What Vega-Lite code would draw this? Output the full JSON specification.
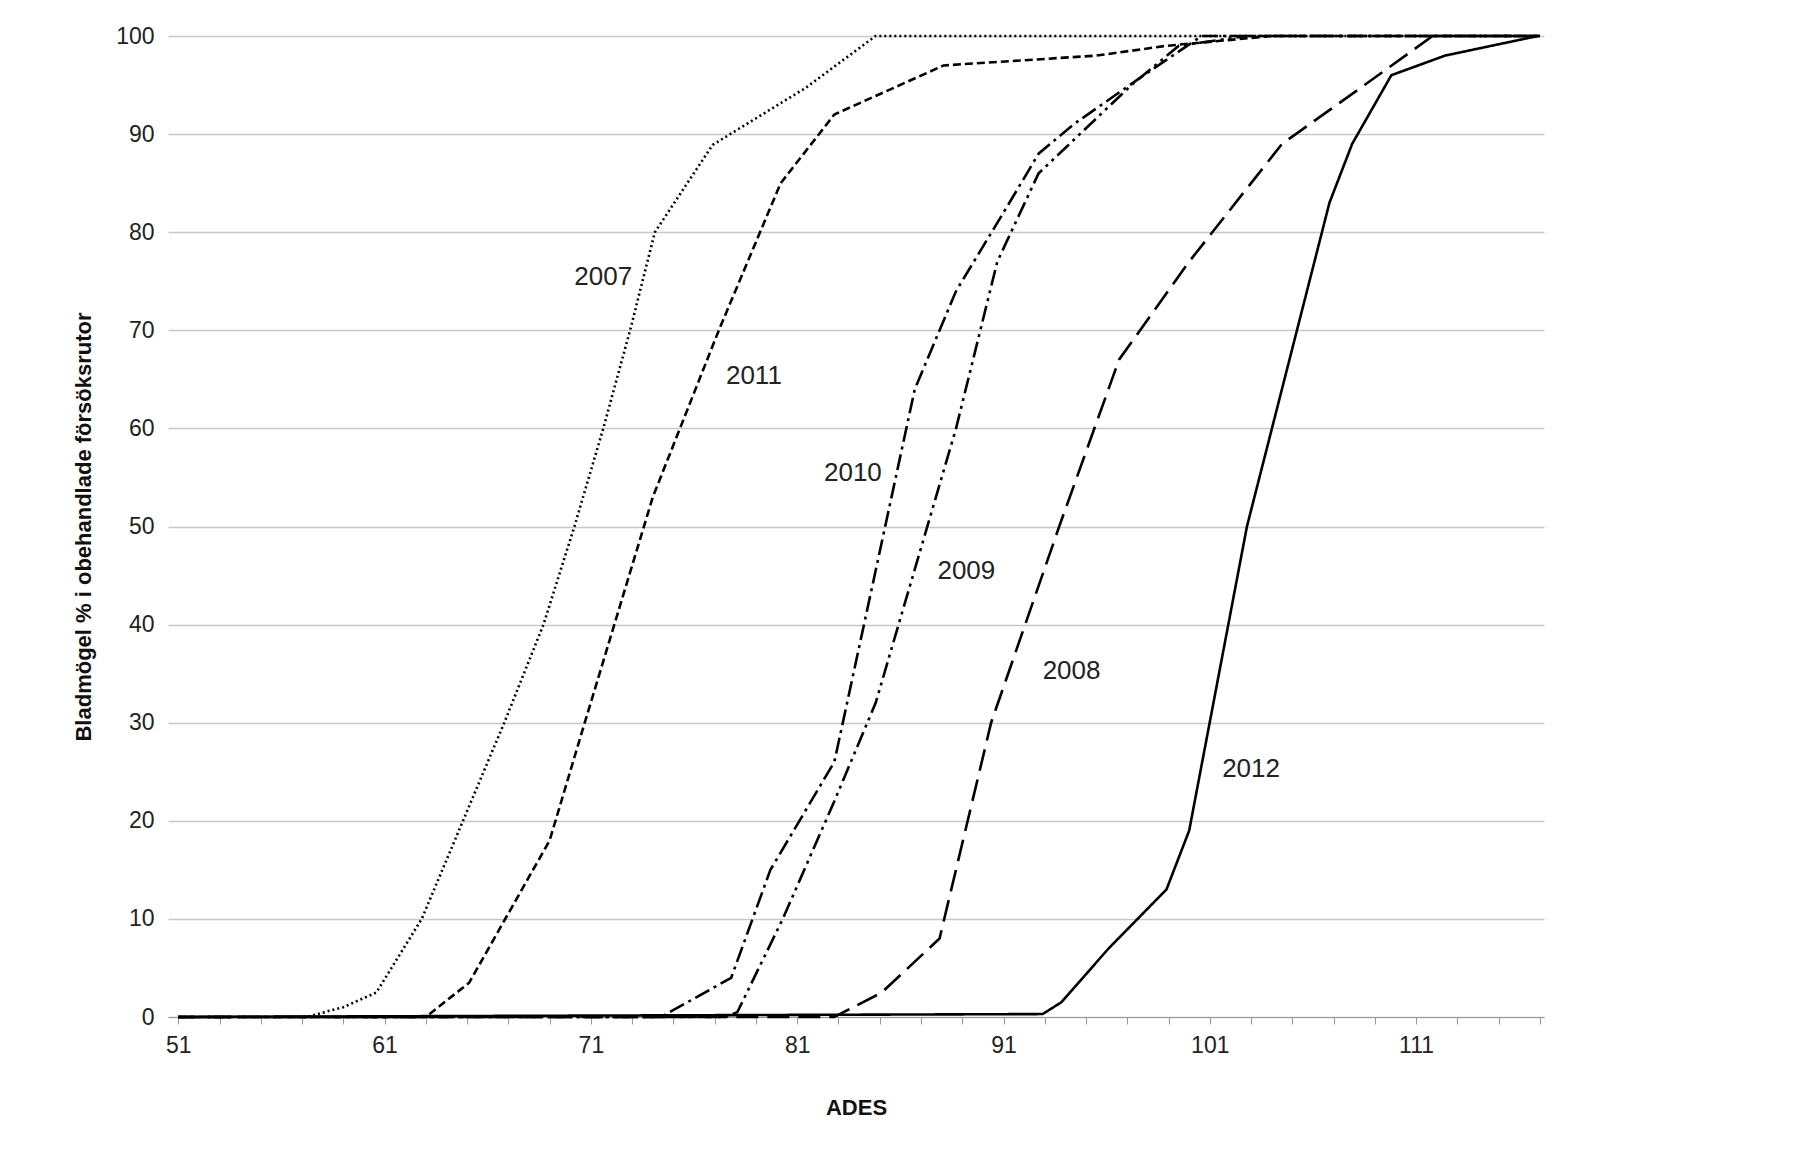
{
  "$schema": "https://vega.github.io/schema/vega-lite/v6.json",
  "width": 1376,
  "height": 981,
  "padding": {"left": 72, "top": 25, "right": 10, "bottom": 10},
  "background": "white",
  "config": {
    "font": "Liberation Sans",
    "view": {"stroke": null},
    "axis": {"labelFontSize": 23, "labelColor": "#222", "titleFontSize": 22, "titleColor": "#111", "titleFontWeight": "bold"}
  },
  "data": {
    "values": [
      {"year": "2007", "x": 51, "y": 0}, {"year": "2007", "x": 57.2, "y": 0}, {"year": "2007", "x": 59, "y": 1}, {"year": "2007", "x": 60.6, "y": 2.5},
      {"year": "2007", "x": 62.8, "y": 10}, {"year": "2007", "x": 64.8, "y": 20}, {"year": "2007", "x": 66.8, "y": 30}, {"year": "2007", "x": 68.7, "y": 40},
      {"year": "2007", "x": 70.2, "y": 50}, {"year": "2007", "x": 71.6, "y": 60}, {"year": "2007", "x": 72.9, "y": 70}, {"year": "2007", "x": 74.1, "y": 80},
      {"year": "2007", "x": 76.9, "y": 88.9}, {"year": "2007", "x": 81.4, "y": 94.7}, {"year": "2007", "x": 84.8, "y": 100}, {"year": "2007", "x": 117, "y": 100},
      {"year": "2011", "x": 51, "y": 0}, {"year": "2011", "x": 63, "y": 0}, {"year": "2011", "x": 65.1, "y": 3.5}, {"year": "2011", "x": 69, "y": 18},
      {"year": "2011", "x": 70.7, "y": 30}, {"year": "2011", "x": 74, "y": 53}, {"year": "2011", "x": 77.2, "y": 70}, {"year": "2011", "x": 80.2, "y": 85},
      {"year": "2011", "x": 82.8, "y": 92}, {"year": "2011", "x": 88.1, "y": 97}, {"year": "2011", "x": 95.5, "y": 98}, {"year": "2011", "x": 98.9, "y": 99},
      {"year": "2011", "x": 104, "y": 100}, {"year": "2011", "x": 117, "y": 100},
      {"year": "2010", "x": 51, "y": 0}, {"year": "2010", "x": 74.4, "y": 0}, {"year": "2010", "x": 77.8, "y": 4}, {"year": "2010", "x": 79.7, "y": 15},
      {"year": "2010", "x": 82.8, "y": 26}, {"year": "2010", "x": 86.7, "y": 64}, {"year": "2010", "x": 88.7, "y": 74}, {"year": "2010", "x": 91, "y": 82},
      {"year": "2010", "x": 92.7, "y": 88}, {"year": "2010", "x": 94.4, "y": 91}, {"year": "2010", "x": 97.8, "y": 96}, {"year": "2010", "x": 100.6, "y": 100},
      {"year": "2010", "x": 117, "y": 100},
      {"year": "2009", "x": 51, "y": 0}, {"year": "2009", "x": 77.5, "y": 0}, {"year": "2009", "x": 78.1, "y": 0.5}, {"year": "2009", "x": 80.3, "y": 10},
      {"year": "2009", "x": 82.8, "y": 22}, {"year": "2009", "x": 84.8, "y": 32}, {"year": "2009", "x": 88.7, "y": 60}, {"year": "2009", "x": 90.7, "y": 77},
      {"year": "2009", "x": 92.7, "y": 86}, {"year": "2009", "x": 97.2, "y": 95}, {"year": "2009", "x": 99.5, "y": 99}, {"year": "2009", "x": 102.8, "y": 100},
      {"year": "2009", "x": 117, "y": 100},
      {"year": "2008", "x": 51, "y": 0}, {"year": "2008", "x": 82.8, "y": 0}, {"year": "2008", "x": 85.1, "y": 2.5}, {"year": "2008", "x": 87.9, "y": 8},
      {"year": "2008", "x": 90.4, "y": 30}, {"year": "2008", "x": 93.7, "y": 50}, {"year": "2008", "x": 96.6, "y": 67}, {"year": "2008", "x": 100, "y": 77},
      {"year": "2008", "x": 104.5, "y": 89}, {"year": "2008", "x": 108.5, "y": 95}, {"year": "2008", "x": 111.8, "y": 100}, {"year": "2008", "x": 117, "y": 100},
      {"year": "2012", "x": 51, "y": 0}, {"year": "2012", "x": 92.9, "y": 0.3}, {"year": "2012", "x": 93.8, "y": 1.5}, {"year": "2012", "x": 96.1, "y": 7},
      {"year": "2012", "x": 98.9, "y": 13}, {"year": "2012", "x": 100, "y": 19}, {"year": "2012", "x": 102.8, "y": 50}, {"year": "2012", "x": 106.8, "y": 83},
      {"year": "2012", "x": 107.9, "y": 89}, {"year": "2012", "x": 109.8, "y": 96}, {"year": "2012", "x": 112.4, "y": 98}, {"year": "2012", "x": 116.9, "y": 100}
    ]
  },
  "layer": [
    {
      "mark": {"type": "line", "color": "black", "strokeWidth": 2.6},
      "encoding": {
        "x": {
          "field": "x", "type": "quantitative", "title": "ADES",
          "scale": {"domain": [50.5, 117.2], "nice": false, "zero": false},
          "axis": {
            "values": [51,52,53,54,55,56,57,58,59,60,61,62,63,64,65,66,67,68,69,70,71,72,73,74,75,76,77,78,79,80,81,82,83,84,85,86,87,88,89,90,91,92,93,94,95,96,97,98,99,100,101,102,103,104,105,106,107,108,109,110,111,112,113,114,115,116,117],
            "labelExpr": "(datum.value - 51) % 10 == 0 ? datum.label : ''",
            "grid": false, "domainColor": "#999", "tickColor": "#999", "tickSize": 7,
            "labelPadding": 10, "titlePadding": 40, "labelFlush": false
          }
        },
        "y": {
          "field": "y", "type": "quantitative", "title": "Bladmögel % i obehandlade  försöksrutor",
          "scale": {"domain": [0, 100]},
          "axis": {"values": [0,10,20,30,40,50,60,70,80,90,100], "gridColor": "#c8c8c8", "gridWidth": 1.5, "domain": false, "ticks": false, "labelPadding": 14, "titlePadding": 20}
        },
        "detail": {"field": "year"},
        "strokeDash": {
          "field": "year", "type": "nominal", "legend": null,
          "scale": {
            "domain": ["2007", "2008", "2009", "2010", "2011", "2012"],
            "range": [[2, 3], [22, 9], [16, 5, 3, 5, 3, 5], [16, 5, 3, 5], [8, 4], [1, 0]]
          }
        }
      }
    },
    {
      "data": {
        "values": [
          {"t": "2007", "x": 71.6, "y": 75.4}, {"t": "2011", "x": 78.9, "y": 65.3}, {"t": "2010", "x": 83.7, "y": 55.5},
          {"t": "2009", "x": 89.2, "y": 45.5}, {"t": "2008", "x": 94.3, "y": 35.3}, {"t": "2012", "x": 103, "y": 25.3}
        ]
      },
      "mark": {"type": "text", "fontSize": 26, "color": "#222", "baseline": "middle"},
      "encoding": {
        "x": {"field": "x", "type": "quantitative"},
        "y": {"field": "y", "type": "quantitative"},
        "text": {"field": "t"}
      }
    }
  ]
}
